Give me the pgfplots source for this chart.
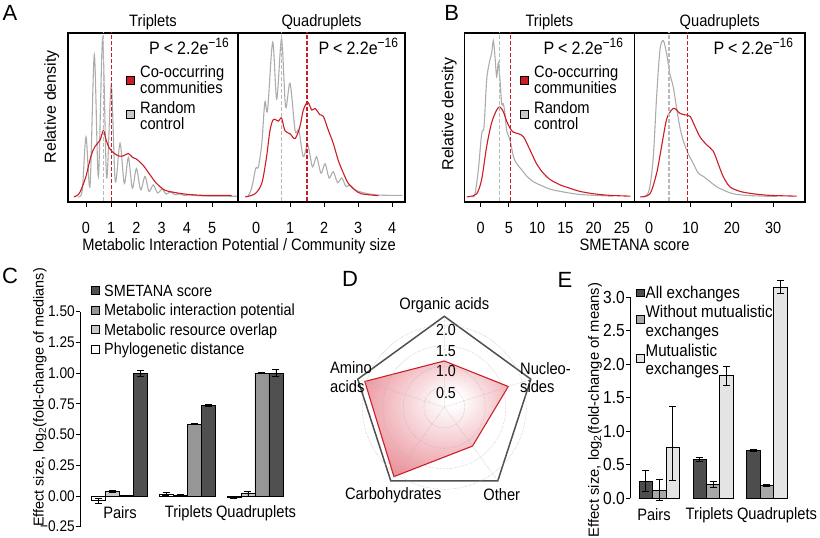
\documentclass[border=0pt]{standalone}
\usepackage{pgfplots}
\usepackage{pgfplotstable}
\pgfplotsset{compat=1.18}
\usepgfplotslibrary{polar}
\usepackage{fontspec}
\setmainfont{Liberation Sans}[FakeStretch=0.89]
\newfontfamily\rotfont{Liberation Sans}
\newcommand\fs[1]{\fontsize{#1}{#1}\selectfont}
\definecolor{cred}{RGB}{205,28,36}
\definecolor{cgrey}{RGB}{172,172,172}
\definecolor{cdash}{RGB}{185,185,185}
\definecolor{polyred}{RGB}{205,30,40}
\definecolor{fillred}{RGB}{222,80,95}
\definecolor{pent}{RGB}{80,80,80}
\definecolor{Cdark}{RGB}{80,80,80}
\definecolor{Cmid}{RGB}{150,150,150}
\definecolor{Clight}{RGB}{200,200,200}
\definecolor{Edark}{RGB}{77,77,77}
\definecolor{Emid}{RGB}{168,168,168}
\definecolor{Elight}{RGB}{228,228,228}
\pgfdeclareradialshading{radarshade}{\pgfpoint{6bp}{9bp}}{color(0bp)=(white); color(3bp)=(white); color(50bp)=(fillred); color(60bp)=(fillred)}

% C: group i at x=i; bars at i-0.309, i-0.103, i+0.103, i+0.309
\pgfplotstableread{
x y ep em
-0.309 -0.04 0.02 0.02
0.691 0.015 0.012 0.012
1.691 -0.015 0.008 0.008
}\Cpd
\pgfplotstableread{
x y ep em
-0.103 0.035 0.006 0.006
0.897 0.005 0.004 0.004
1.897 0.02 0.02 0.02
}\Cmro
\pgfplotstableread{
x y ep em
0.103 0.003 0.003 0.003
1.103 0.585 0.004 0.004
2.103 1.0 0.005 0.005
}\Cmip
\pgfplotstableread{
x y ep em
0.309 1.0 0.025 0.025
1.309 0.735 0.008 0.008
2.309 1.0 0.03 0.03
}\Csm
% E: group i at x=i; bars at i-0.249, i, i+0.249
\pgfplotstableread{
x y ep em
-0.249 0.25 0.16 0.15
0.751 0.58 0.035 0.035
1.751 0.72 0.015 0.015
}\Eall
\pgfplotstableread{
x y ep em
0 0.12 0.16 0.145
1 0.21 0.045 0.045
2 0.195 0.015 0.015
}\Ewo
\pgfplotstableread{
x y ep em
0.249 0.76 0.61 0.49
1.249 1.83 0.145 0.145
2.249 3.15 0.1 0.1
}\Emut

\pgfplotsset{
  dens/.style={scale only axis, height=169pt, anchor=south west,
    ymin=-0.032, ymax=1.038, ytick=\empty,
    axis line style={line width=1.2pt},
    tick align=outside, xtick pos=left, major tick length=5pt,
    tick style={line width=0.9pt, black},
    xticklabel style={font=\fs{16.2}, inner sep=0pt},
    xticklabel shift=15pt,
    /pgf/number format/assume math mode=true, clip=true},
  greyc/.style={draw=cgrey, line width=1.1pt, smooth, tension=0.5, mark=none},
  redc/.style={draw=cred, line width=1.1pt, smooth, tension=0.5, mark=none},
  dashg/.style={draw=cdash, line width=1.1pt, dash pattern=on 3.5pt off 2.5pt, mark=none},
  dashr/.style={draw=cred, line width=1.2pt, dash pattern=on 3.5pt off 2.5pt, mark=none},
  barax/.style={scale only axis, anchor=south west, axis y line*=left, axis x line=none,
    tick align=outside, major tick length=4pt, tick style={line width=0.8pt, black},
    y axis line style={line width=0.8pt}, clip=false,
    /pgf/number format/assume math mode=true},
  errs/.style={error bars/.cd, y dir=both, y explicit,
    error bar style={line width=0.9pt, black},
    error mark options={rotate=90, line width=0.9pt, mark size=3.5pt, black}},
}

\begin{document}
\begin{tikzpicture}[font=\fs{16.5}]
\path[use as bounding box] (0,0) rectangle (820pt,538pt);

% ---------------- Panel A ----------------
\begin{axis}[dens, at={(68pt,336pt)}, width=170pt, xmin=-0.714, xmax=6.03, xtick={0,1,2,3,4,5}]
\addplot[greyc] coordinates {(-0.32,0.0)(-0.15,0.04)(0.0,0.38)(0.16,0.07)(0.33,0.90)(0.49,0.13)(0.66,1.0)(0.82,0.12)(1.0,0.71)(1.16,0.10)(1.35,0.34)(1.52,0.085)(1.68,0.25)(1.84,0.055)(2.0,0.18)(2.17,0.045)(2.34,0.13)(2.5,0.035)(2.67,0.076)(2.84,0.025)(3.02,0.05)(3.18,0.018)(3.35,0.032)(3.52,0.014)(3.7,0.02)(3.9,0.01)(4.1,0.012)(4.5,0.007)(5.0,0.005)(5.5,0.005)(6.1,0.004)};
\addplot[redc] coordinates {(-0.48,0.0)(-0.3,0.015)(-0.17,0.055)(0.0,0.13)(0.09,0.19)(0.22,0.27)(0.36,0.32)(0.56,0.36)(0.69,0.42)(0.8,0.36)(0.92,0.31)(1.05,0.285)(1.28,0.26)(1.48,0.26)(1.68,0.275)(1.85,0.25)(2.0,0.24)(2.27,0.20)(2.54,0.14)(2.8,0.085)(3.13,0.043)(3.53,0.028)(3.93,0.018)(4.5,0.011)(5.0,0.009)(5.78,0.009)};
\addplot[dashg] coordinates {(0.68,-0.1)(0.68,1.2)};
\addplot[dashr] coordinates {(1.0,-0.1)(1.0,1.2)};
\end{axis}

\begin{axis}[dens, at={(238pt,336pt)}, width=167pt, xmin=-0.53, xmax=4.38, xtick={0,1,2,3,4}]
\addplot[greyc] coordinates {(-0.25,0.0)(-0.13,0.055)(-0.01,0.18)(0.07,0.19)(0.17,0.34)(0.26,0.60)(0.34,0.55)(0.49,0.98)(0.61,0.62)(0.75,1.0)(0.87,0.57)(1.0,0.72)(1.15,0.42)(1.26,0.42)(1.39,0.255)(1.52,0.33)(1.66,0.19)(1.78,0.255)(1.91,0.15)(2.03,0.21)(2.15,0.12)(2.27,0.16)(2.4,0.09)(2.52,0.12)(2.65,0.065)(2.76,0.076)(2.91,0.044)(3.1,0.03)(3.3,0.02)(3.6,0.012)(4.0,0.01)(4.3,0.01)};
\addplot[redc] coordinates {(-0.32,0.0)(-0.03,0.02)(0.17,0.087)(0.31,0.255)(0.41,0.42)(0.51,0.49)(0.66,0.48)(0.75,0.50)(0.85,0.42)(1.0,0.40)(1.15,0.37)(1.29,0.445)(1.39,0.55)(1.52,0.60)(1.64,0.55)(1.74,0.56)(1.88,0.52)(1.98,0.51)(2.13,0.42)(2.27,0.34)(2.42,0.23)(2.57,0.15)(2.71,0.087)(2.91,0.044)(3.1,0.02)(3.6,0.008)};
\addplot[dashg] coordinates {(0.76,-0.1)(0.76,1.2)};
\addplot[dashr] coordinates {(1.5,-0.1)(1.5,1.2)};
\end{axis}

% ---------------- Panel B ----------------
\begin{axis}[dens, at={(464.3pt,336pt)}, width=170pt, xmin=-2.9, xmax=27.2, xtick={0,5,10,15,20,25}]
\addplot[greyc] coordinates {(-1.5,0.0)(-1.0,0.02)(-0.42,0.17)(0.17,0.40)(0.59,0.445)(1.06,0.74)(1.53,0.85)(1.94,0.91)(2.24,0.99)(2.53,0.89)(2.83,0.76)(3.13,0.85)(3.42,0.74)(3.72,0.59)(4.0,0.59)(4.3,0.53)(4.6,0.42)(5.2,0.36)(5.8,0.255)(6.4,0.21)(7.3,0.17)(8.2,0.13)(9.3,0.097)(10.5,0.076)(12.3,0.049)(14.1,0.035)(17,0.018)(20,0.01)(23.5,0.005)};
\addplot[redc] coordinates {(-2.5,0.0)(-1.9,0.003)(-0.7,0.02)(0.17,0.11)(1.06,0.32)(1.94,0.47)(2.83,0.55)(3.4,0.57)(4.0,0.54)(4.6,0.48)(5.2,0.435)(5.8,0.41)(6.7,0.40)(7.6,0.38)(8.7,0.30)(9.9,0.21)(11.1,0.15)(12.3,0.11)(14.1,0.076)(15.8,0.055)(17.6,0.035)(20,0.02)(22.9,0.01)(26.5,0.005)};
\addplot[dashg] coordinates {(3.3,-0.1)(3.3,1.2)};
\addplot[dashr] coordinates {(5.3,-0.1)(5.3,1.2)};
\end{axis}

\begin{axis}[dens, at={(634.3pt,336pt)}, width=170.7pt, xmin=-3.6, xmax=37.7, xtick={0,10,20,30}]
\addplot[greyc] coordinates {(-1.5,0.0)(-0.6,0.01)(0.17,0.065)(1.0,0.255)(1.8,0.635)(2.6,0.93)(3.4,0.99)(4.2,0.91)(5.0,0.78)(5.8,0.70)(6.6,0.57)(7.4,0.445)(8.2,0.36)(9.4,0.276)(10.7,0.21)(11.9,0.15)(13.1,0.13)(14.7,0.097)(16.3,0.065)(17.9,0.044)(20.3,0.02)(23.6,0.01)(27.6,0.005)(31,0.003)};
\addplot[redc] coordinates {(-2.2,0.0)(0.17,0.02)(1.8,0.15)(3.0,0.32)(4.2,0.49)(5.4,0.55)(6.2,0.56)(7.4,0.53)(8.6,0.52)(9.9,0.51)(11.1,0.445)(12.3,0.38)(13.9,0.33)(15.5,0.29)(16.7,0.21)(17.9,0.13)(19.5,0.065)(22,0.035)(25.2,0.02)(29.2,0.01)(35.7,0.005)};
\addplot[dashg] coordinates {(4.8,-0.1)(4.8,1.2)};
\addplot[dashr] coordinates {(9.2,-0.1)(9.2,1.2)};
\end{axis}

% ---------------- Panel C ----------------
\begin{axis}[barax, at={(80pt,11.3pt)}, width=210pt, height=215pt,
  xmin=-0.574, xmax=2.515, ymin=-0.25, ymax=1.5,
  ytick={-0.25,0,0.25,0.5,0.75,1,1.25,1.5},
  yticklabels={−0.25,0.00,0.25,0.50,0.75,1.00,1.25,1.50},
  yticklabel style={font=\fs{15.4}, inner sep=1pt}]
\addplot[ybar, bar width=14pt, bar shift=0pt, fill=white, draw=black, line width=0.8pt, errs] table[x=x,y=y,y error plus=ep,y error minus=em]{\Cpd};
\addplot[ybar, bar width=14pt, bar shift=0pt, fill=Clight, draw=black, line width=0.8pt, errs] table[x=x,y=y,y error plus=ep,y error minus=em]{\Cmro};
\addplot[ybar, bar width=14pt, bar shift=0pt, fill=Cmid, draw=black, line width=0.8pt, errs] table[x=x,y=y,y error plus=ep,y error minus=em]{\Cmip};
\addplot[ybar, bar width=14pt, bar shift=0pt, fill=Cdark, draw=black, line width=0.8pt, errs] table[x=x,y=y,y error plus=ep,y error minus=em]{\Csm};
\end{axis}

% ---------------- Panel E ----------------
\begin{axis}[barax, at={(630pt,39.7pt)}, width=170pt, height=201pt,
  xmin=-0.545, xmax=2.615, ymin=0, ymax=3,
  ytick={0,0.5,1,1.5,2,2.5,3},
  yticklabels={0.0,0.5,1.0,1.5,2.0,2.5,3.0},
  yticklabel style={font=\fs{17.5}, inner sep=1pt}]
\addplot[ybar, bar width=13.4pt, bar shift=0pt, fill=Edark, draw=black, line width=0.8pt, errs] table[x=x,y=y,y error plus=ep,y error minus=em]{\Eall};
\addplot[ybar, bar width=13.4pt, bar shift=0pt, fill=Emid, draw=black, line width=0.8pt, errs] table[x=x,y=y,y error plus=ep,y error minus=em]{\Ewo};
\addplot[ybar, bar width=13.4pt, bar shift=0pt, fill=Elight, draw=black, line width=0.8pt, errs] table[x=x,y=y,y error plus=ep,y error minus=em]{\Emut};
\end{axis}

% ---------------- Panel D ----------------
\begin{polaraxis}[at={(444.3pt,130.7pt)}, anchor=center, scale only axis,
  width=182pt, height=182pt, ymin=0, ymax=2.22,
  xtick={18,90,162,234,306}, ytick={0.5,1,1.5,2},
  xticklabels={}, yticklabels={}, major tick length=0pt,
  grid=major, major grid style={densely dotted, line width=0.5pt, gray!60},
  axis line style={draw=none}, axis on top, clip=false]
\addplot[draw=pent, line width=1.5pt, mark=none] coordinates {(90,2.22)(18,2.22)(-54,2.22)(-126,2.22)(-198,2.22)} -- cycle;
\addplot[draw=polyred, line width=1.1pt, mark=none, shade, shading=radarshade] coordinates {(90,1.13)(18,1.64)(-54,1.17)(-126,2.09)(-198,2.04)} -- cycle;
\node[font=\fs{16}, inner sep=0pt, xshift=1.7pt, yshift=-5pt] at (axis cs:90,2.0) {2.0};
\node[font=\fs{16}, inner sep=0pt, xshift=1.7pt, yshift=-5pt] at (axis cs:90,1.5) {1.5};
\node[font=\fs{16}, inner sep=0pt, xshift=1.7pt, yshift=-5pt] at (axis cs:90,1.0) {1.0};
\node[font=\fs{16}, inner sep=0pt, xshift=1.7pt, yshift=-6pt] at (axis cs:90,0.5) {0.5};
\end{polaraxis}

% ---------------- Text ----------------
\begin{scope}[every node/.style={inner sep=0pt}]
% panel letters
\node[font=\rotfont\fs{22}] at (10pt,525pt) {A};
\node[font=\rotfont\fs{22}] at (451.7pt,525.5pt) {B};
\node[font=\rotfont\fs{22}] at (10pt,262pt) {C};
\node[font=\rotfont\fs{22}] at (350pt,259pt) {D};
\node[font=\rotfont\fs{22}] at (565pt,258pt) {E};
% A, B titles
\node at (153pt,516pt) {Triplets};
\node at (321.5pt,516pt) {Quadruplets};
\node at (549.3pt,516pt) {Triplets};
\node at (719.7pt,516pt) {Quadruplets};
% P values
\foreach \px in {149,318.3,543.3,713.3}{
  \node[anchor=base west, font=\fs{18}] at (\px pt,483.2pt) {P\hspace{4pt}<\hspace{4pt}2.2e\raisebox{0.42em}{\fs{13.5}−16}};
}
% A/B legends
\foreach \lx in {130,524}{
  \draw[line width=0.8pt, fill=cred] (\lx pt-4pt,453.5pt) rectangle (\lx pt+4pt,461.5pt);
  \draw[line width=0.8pt, fill=Clight] (\lx pt-4pt,420pt) rectangle (\lx pt+4pt,428pt);
  \node[anchor=base west] at (\lx pt+10pt,460.4pt) {Co-occurring};
  \node[anchor=base west] at (\lx pt+10pt,444.8pt) {communities};
  \node[anchor=base west] at (\lx pt+10pt,424.8pt) {Random};
  \node[anchor=base west] at (\lx pt+10pt,408.8pt) {control};
}
% A/B axis labels
\node[rotate=90, font=\rotfont\fs{16}] at (51.7pt,431.3pt) {Relative density};
\node[rotate=90, font=\rotfont\fs{16}] at (449.3pt,424pt) {Relative density};
\node at (239pt,292pt) {Metabolic Interaction Potential / Community size};
\node at (634.5pt,293.3pt) {SMETANA score};
% C legend and labels
\draw[line width=0.7pt, fill=Cdark] (91pt,243.5pt) rectangle (99pt,251.5pt);
\draw[line width=0.7pt, fill=Cmid] (91pt,224pt) rectangle (99pt,232pt);
\draw[line width=0.7pt, fill=Clight] (91pt,204.5pt) rectangle (99pt,212.5pt);
\draw[line width=0.7pt, fill=white] (91pt,185pt) rectangle (99pt,193pt);
\node[anchor=base west, font=\fs{16.2}] at (104pt,241.7pt) {SMETANA score};
\node[anchor=base west, font=\fs{16.2}] at (104pt,222.2pt) {Metabolic interaction potential};
\node[anchor=base west, font=\fs{16.2}] at (104pt,202.7pt) {Metabolic resource overlap};
\node[anchor=base west, font=\fs{16.2}] at (104pt,183.2pt) {Phylogenetic distance};
\node at (120pt,25pt) {Pairs};
\node at (188.7pt,25pt) {Triplets};
\node at (256pt,25pt) {Quadruplets};
\node[rotate=90, font=\rotfont\fs{14.4}] at (40pt,140.5pt) {Effect size, log\textsubscript{2}(fold-change of medians)};
% D labels
\node at (444.3pt,233pt) {Organic acids};
\node[anchor=west] at (330pt,170pt) {Amino};
\node[anchor=west] at (330pt,151.3pt) {acids};
\node[anchor=west] at (520pt,169pt) {Nucleo-};
\node[anchor=west] at (520pt,151pt) {sides};
\node at (393.3pt,43pt) {Carbohydrates};
\node at (501.7pt,43pt) {Other};
% E legend and labels
\draw[line width=0.7pt, fill=Edark] (636.5pt,241.4pt) rectangle (644pt,248.9pt);
\draw[line width=0.7pt, fill=Emid] (636.5pt,214.9pt) rectangle (644pt,222.4pt);
\draw[line width=0.7pt, fill=Elight] (636.5pt,175.9pt) rectangle (644pt,183.4pt);
\node[anchor=base west, font=\fs{17}] at (645.5pt,239.2pt) {All exchanges};
\node[anchor=base west, font=\fs{17}] at (645.5pt,220.2pt) {Without mutualistic};
\node[anchor=base west, font=\fs{17}] at (645.5pt,201.9pt) {exchanges};
\node[anchor=base west, font=\fs{17}] at (645.5pt,181.9pt) {Mutualistic};
\node[anchor=base west, font=\fs{17}] at (645.5pt,163.6pt) {exchanges};
\node at (654pt,23pt) {Pairs};
\node at (709.5pt,23pt) {Triplets};
\node at (777pt,23pt) {Quadruplets};
\node[rotate=90, font=\rotfont\fs{14.8}] at (595pt,128pt) {Effect size, log\textsubscript{2}(fold-change of means)};
\end{scope}
\end{tikzpicture}
\end{document}
